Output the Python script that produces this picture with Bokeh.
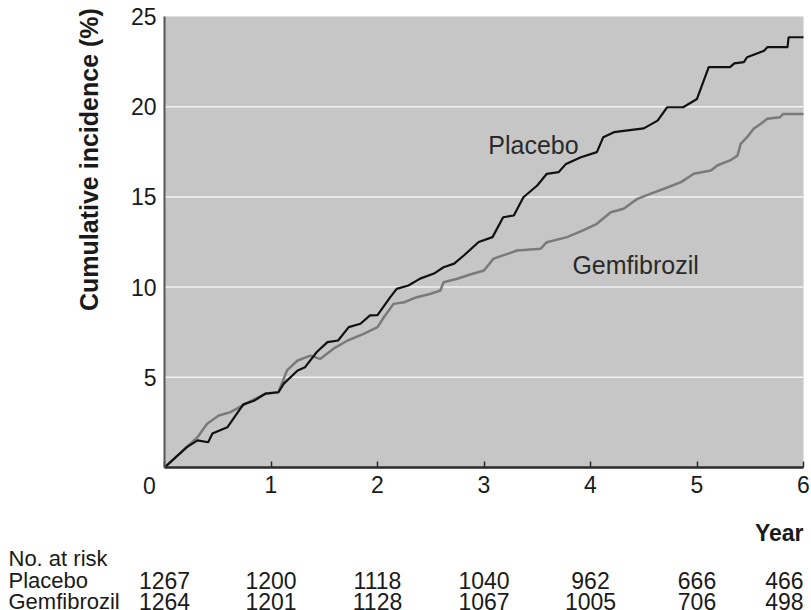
import math
from bokeh.plotting import figure
from bokeh.models import Range1d, FixedTicker, BoxAnnotation
from bokeh.core.properties import value
from bokeh.embed import file_html
from bokeh.resources import INLINE

# ---- data ----
placebo_year = [0.0, 0.21, 0.31, 0.41, 0.45, 0.59, 0.74, 0.84, 0.95, 1.07, 1.12, 1.25, 1.32,
                1.43, 1.53, 1.63, 1.73, 1.84, 1.93, 2.0, 2.12, 2.18, 2.29, 2.4, 2.53, 2.62,
                2.72, 2.81, 2.95, 3.08, 3.18, 3.28, 3.37, 3.5, 3.59, 3.7, 3.77, 3.91, 4.06,
                4.12, 4.22, 4.5, 4.63, 4.72, 4.87, 5.0, 5.11, 5.31, 5.35, 5.44, 5.47, 5.63,
                5.66, 5.85, 5.86, 6.0]
placebo_pct = [0.0, 1.13, 1.5, 1.4, 1.88, 2.23, 3.5, 3.7, 4.1, 4.17, 4.65, 5.38, 5.56,
               6.4, 6.95, 7.04, 7.78, 7.97, 8.43, 8.45, 9.44, 9.9, 10.09, 10.47, 10.75, 11.1,
               11.3, 11.75, 12.5, 12.77, 13.87, 13.97, 14.98, 15.63, 16.28, 16.37, 16.83, 17.2, 17.48,
               18.31, 18.59, 18.8, 19.23, 19.97, 19.97, 20.43, 22.19, 22.19, 22.4, 22.47, 22.74, 23.1,
               23.3, 23.3, 23.85, 23.85]

gemfi_year = [0.0, 0.31, 0.40, 0.51, 0.62, 0.76, 0.95, 1.07, 1.15, 1.25, 1.37, 1.46, 1.59,
              1.72, 1.87, 2.0, 2.06, 2.15, 2.25, 2.37, 2.5, 2.59, 2.62, 2.75, 2.87, 3.0,
              3.09, 3.22, 3.31, 3.53, 3.59, 3.78, 3.93, 4.06, 4.19, 4.31, 4.44, 4.56, 4.69,
              4.85, 4.97, 5.13, 5.19, 5.31, 5.38, 5.41, 5.47, 5.53, 5.6, 5.66, 5.78, 5.81, 6.0]
gemfi_pct = [0.0, 1.68, 2.42, 2.88, 3.07, 3.53, 4.1, 4.17, 5.38, 5.93, 6.2, 6.02, 6.6,
             7.04, 7.41, 7.78, 8.33, 9.07, 9.16, 9.44, 9.63, 9.81, 10.27, 10.46, 10.7, 10.92,
             11.58, 11.84, 12.03, 12.12, 12.49, 12.77, 13.14, 13.51, 14.15, 14.34, 14.89, 15.17, 15.45,
             15.82, 16.28, 16.46, 16.74, 17.02, 17.29, 17.94, 18.31, 18.77, 19.05, 19.33, 19.42, 19.6, 19.6]

risk_years = [0, 1, 2, 3, 4, 5, 6]
risk_placebo = ["1267", "1200", "1118", "1040", "962", "666", "466"]
risk_gemfi = ["1264", "1201", "1128", "1067", "1005", "706", "498"]
row_names = ["No. at risk", "Placebo", "Gemfibrozil"]

x_ticks = [0, 1, 2, 3, 4, 5, 6]
y_ticks = [5, 10, 15, 20, 25]
grid_ticks = [5, 10, 15, 20]
X_MIN, X_MAX = 0, 6
Y_MIN, Y_MAX = 0, 25

FONT = "Liberation Sans"
TXT = "#1a1a1a"

# ---- layout (pixels) ----
W, H = 811, 610
LEFT, RIGHT, TOP, BOTTOM = 164, 8, 16, 143
px_x = (W - LEFT - RIGHT) / (X_MAX - X_MIN)
px_y = (H - TOP - BOTTOM) / (Y_MAX - Y_MIN)

def dy(pixels_below_axis):
    return -pixels_below_axis / px_y

def dx(pixels_left_of_axis):
    return -pixels_left_of_axis / px_x

p = figure(width=W, height=H, output_backend="svg", toolbar_location=None,
           x_range=Range1d(X_MIN - LEFT / px_x, X_MAX + RIGHT / px_x),
           y_range=Range1d(Y_MIN - BOTTOM / px_y, Y_MAX + TOP / px_y),
           min_border=0, min_border_left=0, min_border_right=0,
           min_border_top=0, min_border_bottom=0)
p.background_fill_color = "white"
p.border_fill_color = "white"
p.outline_line_color = None
p.xgrid.visible = False
p.ygrid.visible = False

# plot area
p.add_layout(BoxAnnotation(left=X_MIN, right=X_MAX, bottom=Y_MIN, top=Y_MAX,
                           fill_color="#c6c6c6", fill_alpha=1.0, line_color=None,
                           level="underlay"))
p.segment(x0=[X_MIN] * len(grid_ticks), x1=[X_MAX] * len(grid_ticks),
          y0=grid_ticks, y1=grid_ticks, line_color="#f2f2f2", line_width=1.5)

# axes
p.xaxis.fixed_location = Y_MIN
p.xaxis.bounds = (X_MIN, X_MAX)
p.xaxis.ticker = FixedTicker(ticks=x_ticks)
p.xaxis.major_label_overrides = {0: ""}
p.xaxis.axis_line_color = "#2a2a2a"
p.xaxis.axis_line_width = 2.5
p.xaxis.major_tick_in = 6
p.xaxis.major_tick_out = 0
p.xaxis.major_tick_line_color = "#2a2a2a"
p.xaxis.major_tick_line_width = 1.5
p.xaxis.minor_tick_line_color = None
p.xaxis.major_label_standoff = 8
p.xaxis.major_label_text_font = FONT
p.xaxis.major_label_text_font_size = "23px"
p.xaxis.major_label_text_color = TXT

p.yaxis.fixed_location = X_MIN
p.yaxis.bounds = (Y_MIN, Y_MAX)
p.yaxis.ticker = FixedTicker(ticks=y_ticks)
p.yaxis.axis_line_color = "#555555"
p.yaxis.axis_line_width = 2
p.yaxis.major_tick_in = 0
p.yaxis.major_tick_out = 0
p.yaxis.minor_tick_line_color = None
p.yaxis.major_label_standoff = 8
p.yaxis.major_label_text_font = FONT
p.yaxis.major_label_text_font_size = "23px"
p.yaxis.major_label_text_color = TXT

# curves
p.line(gemfi_year, gemfi_pct, line_color="#7a7a7a", line_width=2.5)
p.line(placebo_year, placebo_pct, line_color="#111111", line_width=2.2)

# in-plot labels
p.text(x=[3.04, 3.83], y=[17.85, 11.2], text=["Placebo", "Gemfibrozil"],
       text_font=value(FONT), text_font_size="25px", text_color="#2a2a2a",
       text_baseline="alphabetic")

# y axis title
p.text(x=[dx(76)], y=[17.07], text=["Cumulative incidence (%)"], angle=math.pi / 2,
       text_font=value(FONT), text_font_size="25px", text_font_style="bold",
       text_color=TXT, text_align="center", text_baseline="middle")

# corner zero
p.text(x=[X_MIN], y=[dy(18)], text=["0"], x_offset=-15, text_font=value(FONT),
       text_font_size="23px", text_color=TXT, text_align="center", text_baseline="middle")

# x axis title
p.text(x=[X_MAX], y=[dy(65)], text=["Year"], text_font=value(FONT), text_font_size="23px",
       text_font_style="bold", text_color=TXT, text_align="right", text_baseline="alphabetic")

# number at risk table
row_y = [dy(91), dy(113), dy(134)]
p.text(x=[dx(156)] * 3, y=row_y, text=row_names, text_font=value(FONT),
       text_font_size="22px", text_color=TXT, text_align="left", text_baseline="alphabetic")
aligns = ["right" if yr == risk_years[-1] else "center" for yr in risk_years]
for vals, ry in [(risk_placebo, row_y[1]), (risk_gemfi, row_y[2])]:
    p.text(x=risk_years, y=[ry] * len(risk_years), text=vals, text_font=value(FONT),
           text_font_size="23px", text_color=TXT, text_align=aligns,
           text_baseline="alphabetic")

open("out.html", "w").write(file_html(p, INLINE))
